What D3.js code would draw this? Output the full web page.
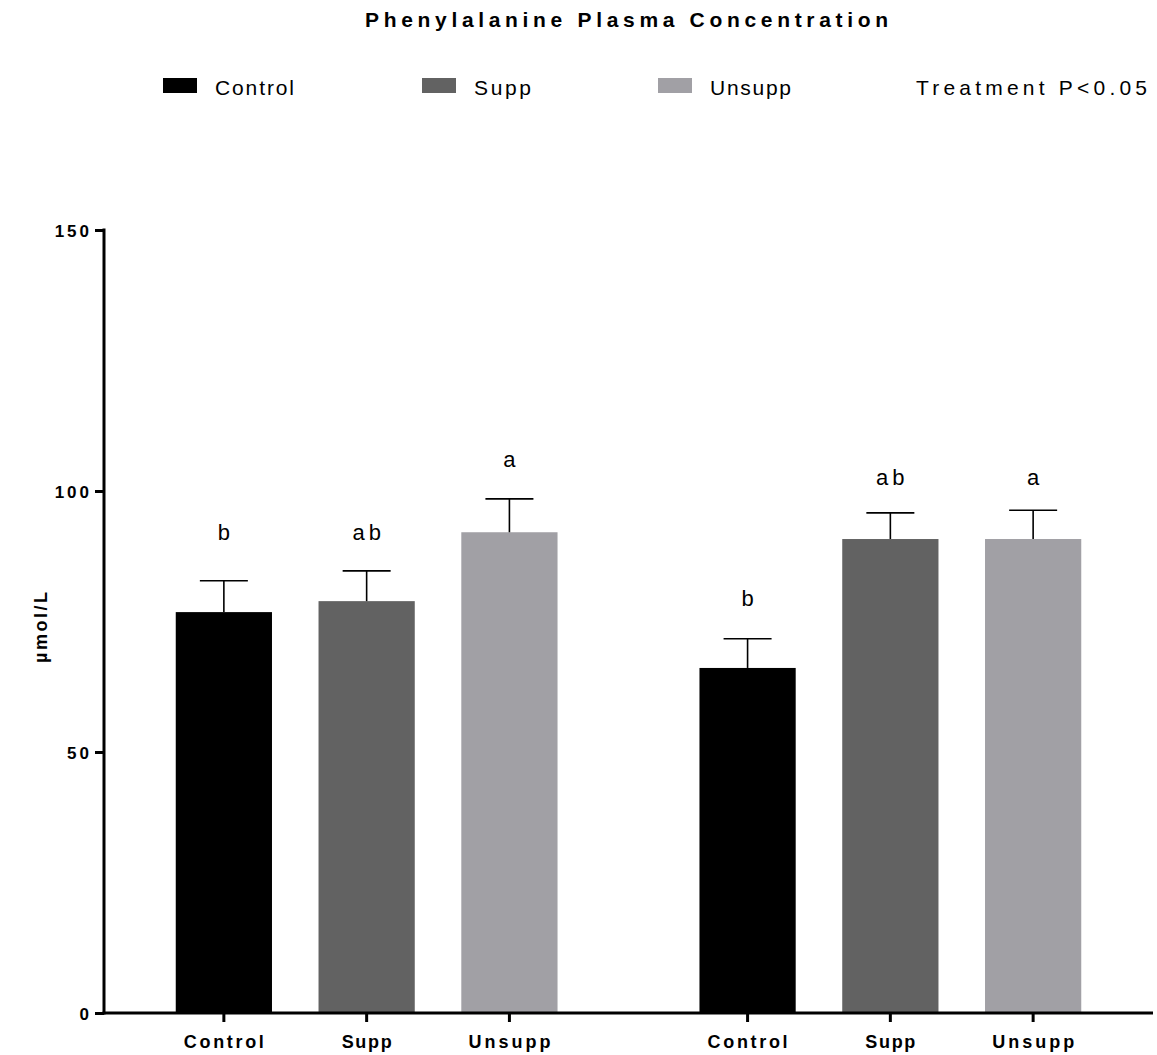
<!DOCTYPE html>
<html>
<head>
<meta charset="utf-8">
<script src="https://cdn.jsdelivr.net/npm/d3@7"></script>
<style>
  html, body { margin: 0; padding: 0; background: #fff; }
  svg { display: block; font-family: "Liberation Sans", Arial, sans-serif; }
</style>
</head>
<body>
<svg id="chart" width="1157" height="1055"></svg>
<script>
// Treatment groups and the two sampling sets they were measured in
const treatments = ["Control", "Supp", "Unsupp"];
const sets = ["set1", "set2"];

// Mean phenylalanine concentration (µmol/L) per set, in treatment order
const meanSet1 = [76.8, 78.9, 92.1];
const meanSet2 = [66.1, 90.8, 90.8];

// Standard error of the mean
const semSet1 = [6.0, 5.8, 6.4];
const semSet2 = [5.6, 5.0, 5.5];

// Significance letters and the value level they sit at
const lettersSet1 = ["b", "ab", "a"];
const lettersSet2 = ["b", "ab", "a"];
const letterLevelSet1 = [90.6, 90.6, 104.6];
const letterLevelSet2 = [78.0, 101.1, 101.1];

const yTicks = [0, 50, 100, 150];
const colors = ["#000000", "#626262", "#a1a0a5"];

const rows = [];
[[meanSet1, semSet1, lettersSet1, letterLevelSet1],
 [meanSet2, semSet2, lettersSet2, letterLevelSet2]].forEach((s, si) => {
  treatments.forEach((t, ti) => {
    rows.push({ set: sets[si], treatment: t, mean: s[0][ti], sem: s[1][ti],
                letter: s[2][ti], letterLevel: s[3][ti] });
  });
});

const svg = d3.select("#chart");
const plotLeft = 104, plotRight = 1153, plotTop = 230, plotBottom = 1013;

const y = d3.scaleLinear().domain([0, 150]).range([plotBottom, plotTop]);
const x0 = d3.scaleBand().domain(sets).range([plotLeft, plotRight])
  .paddingInner(0.271).paddingOuter(0.137);
const x1 = d3.scaleBand().domain(treatments).range([0, x0.bandwidth()])
  .paddingInner(0.326).paddingOuter(0);
const color = d3.scaleOrdinal().domain(treatments).range(colors);

const cx = d => x0(d.set) + x1(d.treatment) + x1.bandwidth() / 2;

// Title
svg.append("text")
  .attr("x", 365).attr("y", 27)
  .attr("textLength", 523).attr("lengthAdjust", "spacing")
  .style("font-size", "21px").style("font-weight", "bold")
  .text("Phenylalanine Plasma Concentration");

// Legend
const legendX = [163, 422, 658];
const legendTextW = [79, 57, 81];
treatments.forEach((t, i) => {
  svg.append("rect").attr("x", legendX[i]).attr("y", 78)
    .attr("width", 34).attr("height", 15).attr("fill", color(t));
  svg.append("text").attr("x", legendX[i] + 52).attr("y", 95)
    .attr("textLength", legendTextW[i]).attr("lengthAdjust", "spacing")
    .style("font-size", "21px").text(t);
});
svg.append("text").attr("x", 916).attr("y", 95)
  .attr("textLength", 231).attr("lengthAdjust", "spacing")
  .style("font-size", "21px").text("Treatment P<0.05");

// Bars
svg.append("g").selectAll("rect").data(rows).join("rect")
  .attr("x", d => x0(d.set) + x1(d.treatment))
  .attr("y", d => y(d.mean))
  .attr("width", x1.bandwidth())
  .attr("height", d => y(0) - y(d.mean))
  .attr("fill", d => color(d.treatment));

// Error bars (upper whisker only)
const capHalf = 24;
const eb = svg.append("g").attr("stroke", "#000").attr("stroke-width", 1.6);
eb.selectAll("line.v").data(rows).join("line").attr("class", "v")
  .attr("x1", cx).attr("x2", cx)
  .attr("y1", d => y(d.mean)).attr("y2", d => y(d.mean + d.sem));
eb.selectAll("line.h").data(rows).join("line").attr("class", "h")
  .attr("x1", d => cx(d) - capHalf).attr("x2", d => cx(d) + capHalf)
  .attr("y1", d => y(d.mean + d.sem)).attr("y2", d => y(d.mean + d.sem));

// Significance letters
svg.append("g").selectAll("text").data(rows).join("text")
  .attr("x", cx).attr("y", d => y(d.letterLevel))
  .attr("dx", 2)
  .attr("text-anchor", "middle")
  .style("font-size", "22px").style("letter-spacing", "4px")
  .text(d => d.letter);

// Y axis
const yAxis = svg.append("g").attr("transform", `translate(${plotLeft},0)`)
  .call(d3.axisLeft(y).tickValues(yTicks).tickSize(9).tickPadding(6).tickSizeOuter(0));
yAxis.select(".domain").attr("stroke-width", 3)
  .attr("d", `M0,${plotTop - 1.5}V${plotBottom + 1.5}`);
yAxis.selectAll(".tick line").attr("stroke-width", 3);
yAxis.selectAll(".tick text")
  .style("font-size", "17px").style("font-weight", "bold")
  .style("letter-spacing", "3px").attr("dx", "3px").attr("dy", "0.36em")
  .style("font-family", "'Liberation Sans', Arial, sans-serif");

// X axis
svg.append("line").attr("x1", plotLeft - 1.5).attr("x2", plotRight)
  .attr("y1", plotBottom).attr("y2", plotBottom)
  .attr("stroke", "#000").attr("stroke-width", 3);
svg.append("g").selectAll("line").data(rows).join("line")
  .attr("x1", cx).attr("x2", cx).attr("y1", plotBottom).attr("y2", plotBottom + 9)
  .attr("stroke", "#000").attr("stroke-width", 3);
const xLabelW = { Control: 80, Supp: 50, Unsupp: 82 };
svg.append("g").selectAll("text").data(rows).join("text")
  .attr("x", d => cx(d) - xLabelW[d.treatment] / 2).attr("y", 1048)
  .attr("textLength", d => xLabelW[d.treatment]).attr("lengthAdjust", "spacing")
  .style("font-size", "18px").style("font-weight", "bold")
  .text(d => d.treatment);

// Y axis title
svg.append("text")
  .attr("transform", "translate(47,663) rotate(-90)")
  .attr("textLength", 71).attr("lengthAdjust", "spacing")
  .style("font-size", "18px").style("font-weight", "bold")
  .text("µmol/L");
</script>
</body>
</html>
